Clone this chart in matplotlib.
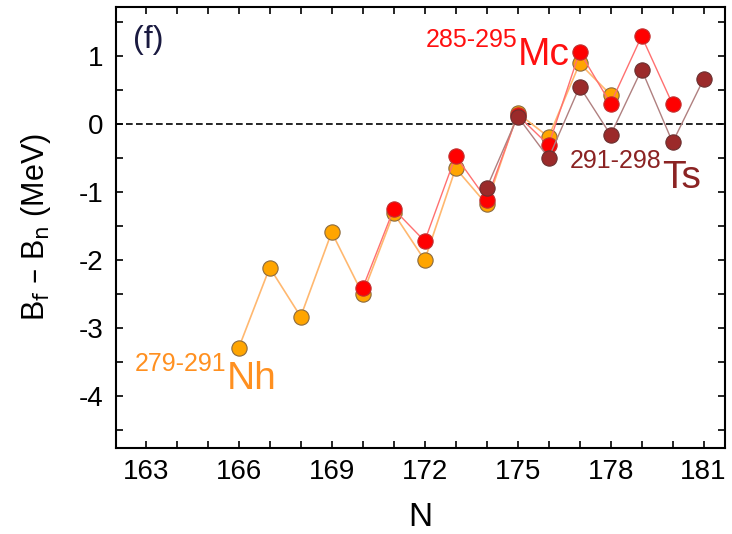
import matplotlib
matplotlib.use("Agg")
import matplotlib.pyplot as plt

plt.rcParams['font.family'] = ['Liberation Sans', 'DejaVu Sans']
plt.rcParams['axes.unicode_minus'] = False

# neutron numbers and B_f - B_n (MeV) for each isotope chain
n_nh = list(range(166, 179))
b_nh = [-3.29, -2.11, -2.83, -1.59, -2.50, -1.31, -2.00, -0.65, -1.18, 0.16, -0.19, 0.89, 0.43]
n_mc = list(range(170, 181))
b_mc = [-2.41, -1.25, -1.72, -0.47, -1.11, 0.13, -0.31, 1.06, 0.30, 1.29, 0.29]
n_ts = list(range(174, 182))
b_ts = [-0.94, 0.11, -0.50, 0.55, -0.16, 0.80, -0.27, 0.66]

fig = plt.figure(figsize=(7.32, 5.34), dpi=100)
ax = fig.add_axes([0.158, 0.161, 0.832, 0.826])

ax.axhline(0, color='black', lw=1.2, ls=(0, (4, 2)), zorder=1)

ax.plot(n_nh, b_nh, '-', color='#FFB870', lw=1.2, zorder=2)
ax.plot(n_nh, b_nh, 'o', ms=11, mfc='#FFA500', mec='#8a6a40', mew=0.8, zorder=3)
ax.plot(n_mc, b_mc, '-', color='#FF7070', lw=1.0, zorder=4)
ax.plot(n_mc, b_mc, 'o', ms=11, mfc='#FF0000', mec='#c03030', mew=0.8, zorder=5)
ax.plot(n_ts, b_ts, '-', color='#B08080', lw=1.0, zorder=6)
ax.plot(n_ts, b_ts, 'o', ms=11, mfc='#9B2A2A', mec='#6a3030', mew=0.8, zorder=7)

# isotope chain labels
ax.text(165.6, -3.63, '279-291', color='#FF9020', fontsize=18, ha='right', va='baseline')
ax.text(165.6, -3.90, 'Nh', color='#FF9020', fontsize=28, ha='left', va='baseline')
ax.text(175.0, 1.13, '285-295', color='#FF1010', fontsize=18, ha='right', va='baseline')
ax.text(175.0, 0.87, 'Mc', color='#FF1010', fontsize=28, ha='left', va='baseline')
ax.text(179.65, -0.65, '291-298', color='#8B2323', fontsize=18, ha='right', va='baseline')
ax.text(179.65, -0.94, 'Ts', color='#8B2323', fontsize=28, ha='left', va='baseline')

ax.text(0.028, 0.96, '(f)', transform=ax.transAxes, fontsize=23, color='#1a1a40',
        ha='left', va='top')

ax.set_xlim(162.03, 181.68)
ax.set_ylim(-4.76, 1.72)
ax.set_xticks(range(163, 182, 3))
ax.set_xticks(range(163, 182), minor=True)
ax.set_yticks(range(-4, 2))
ax.set_yticks([v / 2 for v in range(-9, 4)], minor=True)
ax.tick_params(which='both', direction='in', top=True, right=True, length=5, width=1.2,
               labelsize=20)
ax.tick_params(axis='x', pad=8)
ax.tick_params(axis='y', pad=9)
for s in ax.spines.values():
    s.set_linewidth(1.5)

ax.set_xlabel('N', fontsize=24, labelpad=12)
ax.set_ylabel('B$_\\mathrm{f}$ – B$_\\mathrm{n}$ (MeV)', fontsize=22, labelpad=18)

fig.savefig('out.png', dpi=100)
